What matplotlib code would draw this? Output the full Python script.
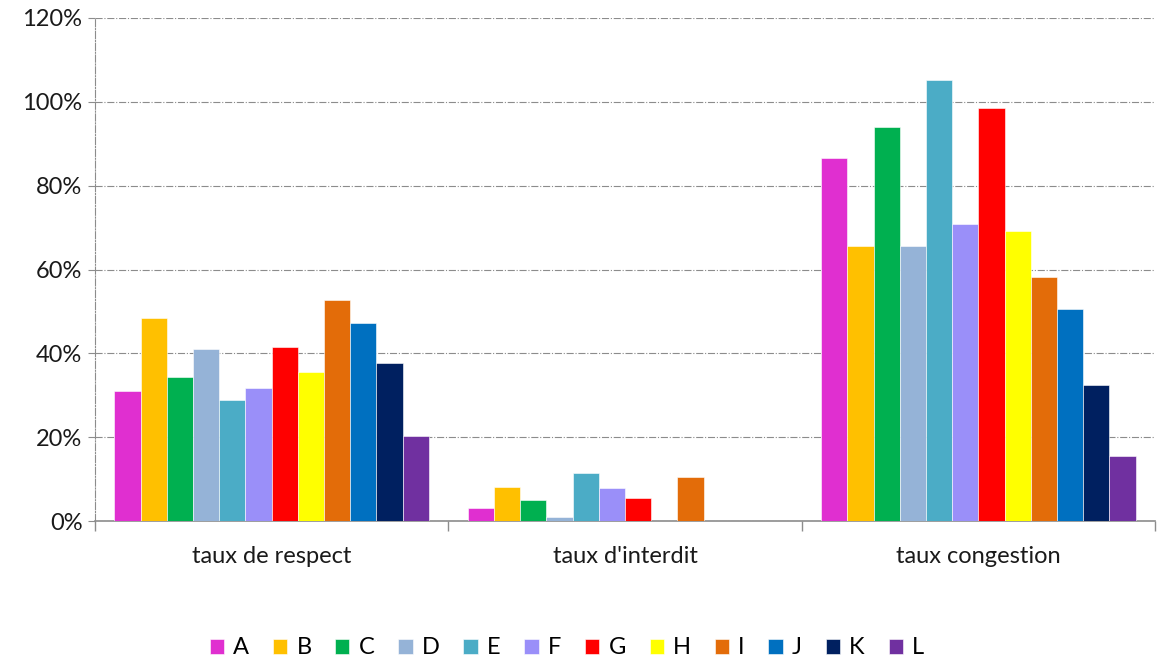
import matplotlib
matplotlib.use("Agg")
import matplotlib.pyplot as plt
import numpy as np
from matplotlib.ticker import FuncFormatter, FixedLocator

categories = ["taux de respect", "taux d'interdit", "taux congestion"]
series = ["A", "B", "C", "D", "E", "F", "G", "H", "I", "J", "K", "L"]
colors = ["#E02FD0", "#FFC000", "#00B050", "#95B3D7", "#4BACC6", "#9A8FF9",
          "#FF0000", "#FFFF00", "#E36C09", "#0070C0", "#002060", "#7030A0"]
values = {
    "A": [31.0, 3.0, 86.7],
    "B": [48.4, 8.2, 65.6],
    "C": [34.3, 5.1, 94.0],
    "D": [41.0, 1.0, 65.6],
    "E": [28.9, 11.5, 105.2],
    "F": [31.8, 7.8, 70.8],
    "G": [41.6, 5.6, 98.6],
    "H": [35.5, 0.0, 69.3],
    "I": [52.7, 10.6, 58.3],
    "J": [47.2, 0.0, 50.5],
    "K": [37.7, 0.0, 32.4],
    "L": [20.3, 0.0, 15.6],
}

plt.rcParams['font.family'] = ['Lato', 'DejaVu Sans']

fig = plt.figure(figsize=(11.57, 6.63), dpi=100)
ax = fig.add_axes([95/1157, 1 - 521/663, (1155 - 95)/1157, (521 - 18)/663])

n = len(series)
group_w = 0.89
bw = group_w / n
x = np.arange(len(categories))
handles = []
for i, s in enumerate(series):
    pos = x - group_w / 2 + bw * (i + 0.5)
    b = ax.bar(pos, values[s], width=bw, color=colors[i], edgecolor="white",
               linewidth=0.4, label=s, zorder=3)
    handles.append(b)

ax.set_xlim(-0.5, len(categories) - 0.5)
ax.set_ylim(0, 120)
ax.yaxis.set_major_locator(FixedLocator(np.arange(0, 121, 20)))
ax.yaxis.set_major_formatter(FuncFormatter(lambda v, p: f"{int(v)}%"))
ax.grid(axis="y", color="#8c8c8c", linestyle="-.", linewidth=0.8, zorder=0)
ax.set_axisbelow(True)

for sp in ["top", "right"]:
    ax.spines[sp].set_visible(False)
ax.spines["left"].set_linestyle("-.")
ax.spines["left"].set_color("#8c8c8c")
ax.spines["left"].set_linewidth(0.8)
ax.spines["bottom"].set_color("#8c8c8c")
ax.spines["bottom"].set_linewidth(1.2)

fs = 17
ax.set_xticks(x)
ax.set_xticklabels(categories, fontsize=fs, color="#1a1a1a")
ax.tick_params(axis="x", length=0, pad=18)
ax.set_xticks(np.arange(-0.5, len(categories), 1), minor=True)
ax.tick_params(axis="x", which="minor", length=7, color="#8c8c8c", width=1)
ax.tick_params(axis="y", length=5, color="#8c8c8c", labelsize=fs, labelcolor="#1a1a1a", pad=4)

fig.legend(handles=handles, labels=series, loc="center", bbox_to_anchor=(567/1157, 1 - 648/663),
           ncol=12, frameon=False, fontsize=fs, handlelength=0.6, handleheight=0.6,
           handletextpad=0.4, columnspacing=1.0)

fig.savefig("out.png", dpi=100)
